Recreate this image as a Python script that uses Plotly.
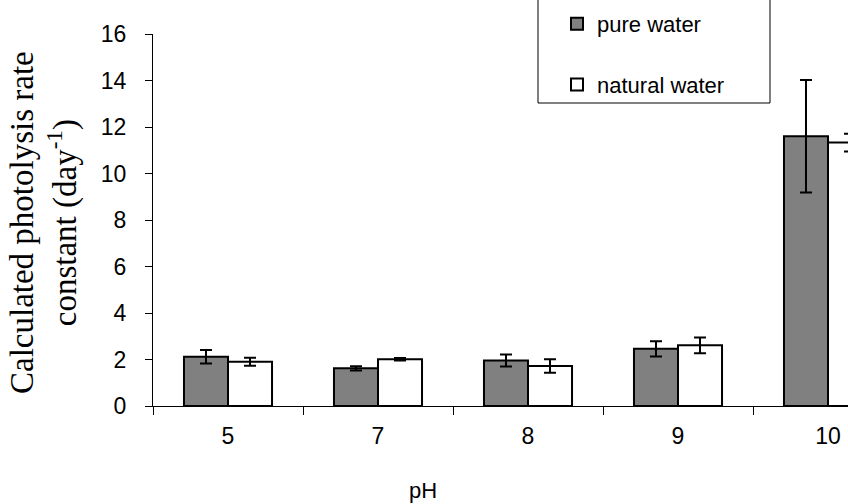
import plotly.graph_objects as go

ph = ['5', '7', '8', '9', '10']
pure = [2.12, 1.62, 1.96, 2.46, 11.6]
pure_err = [0.29, 0.09, 0.26, 0.33, 2.42]
natural = [1.90, 2.01, 1.72, 2.61, 11.33]
natural_err = [0.17, 0.05, 0.29, 0.34, 0.38]
series_names = ['pure water', 'natural water']
y_ticks = [0, 2, 4, 6, 8, 10, 12, 14, 16]

W, H = 848, 504
ML, MR, MT, MB = 153, 0, 34, 98
PW, PH_ = W - ML - MR, H - MT - MB


def px_x(p):
    return (p - ML) / PW


def px_y(p):
    return (H - MB - p) / PH_


sans = 'Liberation Sans, Arial, sans-serif'
serif = 'Liberation Serif, Times New Roman, serif'

fig = go.Figure()
fig.add_trace(go.Bar(
    x=ph, y=pure, name=series_names[0], legendgroup='a',
    marker=dict(color='#808080', line=dict(color='black', width=2)),
    error_y=dict(type='data', array=pure_err, color='black', thickness=2, width=6),
))
fig.add_trace(go.Bar(
    x=ph, y=natural, name=series_names[1], legendgroup='b',
    marker=dict(color='white', line=dict(color='black', width=2)),
    error_y=dict(type='data', array=natural_err, color='black', thickness=2, width=6),
))

fig.update_layout(
    width=W, height=H,
    margin=dict(l=ML, r=MR, t=MT, b=MB, autoexpand=False),
    paper_bgcolor='white', plot_bgcolor='white',
    barmode='group', bargap=0.413, bargroupgap=0,
    showlegend=True,
    legend=dict(x=px_x(557), y=px_y(3), xanchor='left', yanchor='top',
                bgcolor='rgba(0,0,0,0)', borderwidth=0,
                font=dict(family=sans, size=22, color='black'),
                tracegroupgap=29, itemclick=False),
    font=dict(family=sans, color='black'),
    shapes=[dict(type='rect', xref='paper', yref='paper',
                 x0=px_x(538), x1=px_x(770), y0=px_y(103), y1=px_y(-5),
                 line=dict(color='black', width=1), fillcolor='white', layer='below')],
    annotations=[
        dict(text='pH', xref='paper', yref='paper', x=px_x(423), y=px_y(490),
             xanchor='center', yanchor='middle',
             showarrow=False, font=dict(family=sans, size=22, color='black')),
        dict(text='Calculated photolysis rate<br>constant (day<sup>-1</sup>)',
             xref='paper', yref='paper', x=px_x(44), y=px_y(223), textangle=-90,
             xanchor='center', yanchor='middle',
             showarrow=False, font=dict(family=serif, size=33, color='black')),
    ],
)

fig.update_xaxes(
    type='category', range=[-0.5, -0.5 + PW / 150.0],
    showline=True, linecolor='black', linewidth=1,
    ticks='outside', tickson='boundaries', ticklen=8, tickcolor='black', tickwidth=1,
    ticklabelstandoff=9,
    tickfont=dict(family=sans, size=23, color='black'),
    showgrid=False, zeroline=False,
)
fig.update_yaxes(
    range=[0, 16], tickvals=y_ticks,
    showline=True, linecolor='black', linewidth=1,
    ticks='outside', ticklen=7, tickcolor='black', tickwidth=1,
    ticklabelstandoff=14,
    tickfont=dict(family=sans, size=23, color='black'),
    showgrid=False, zeroline=False,
)

fig.write_html('out.html')
